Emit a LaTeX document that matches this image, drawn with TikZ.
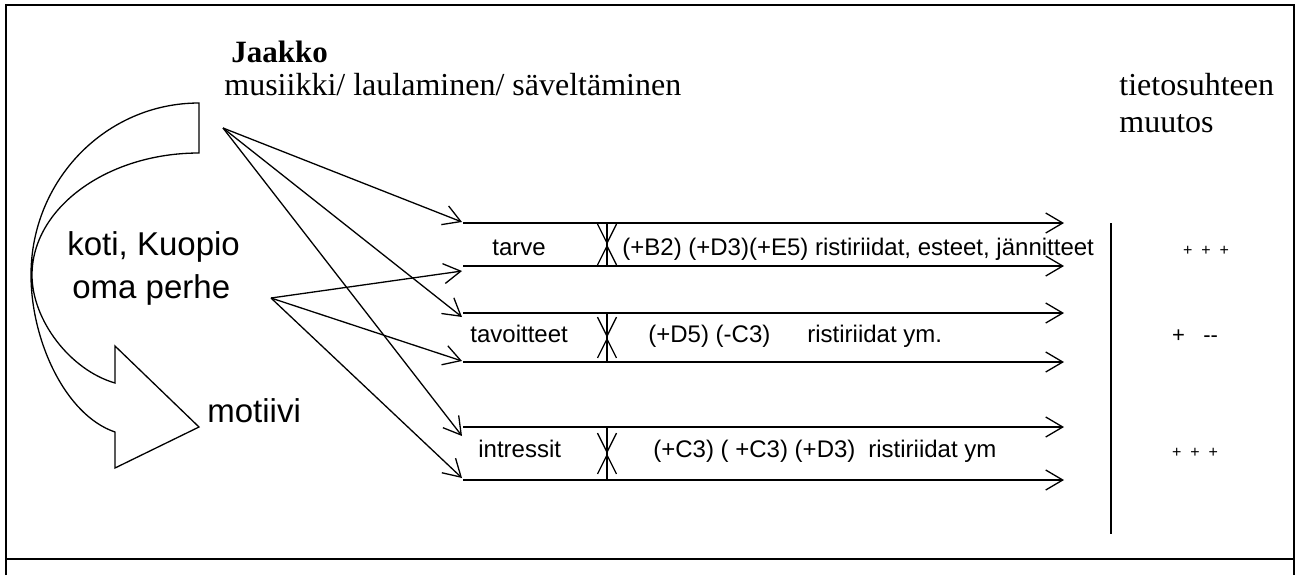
\documentclass[tikz,border=0pt]{standalone}
\usepackage{fontspec}
\setmainfont{Liberation Serif}
\newfontfamily\arialfont{Liberation Sans}
\usetikzlibrary{arrows.meta}

\tikzset{
  lab/.style={anchor=base west,inner sep=0pt},
  bigsans/.style={lab,font=\arialfont\fontsize{16.5}{20}\selectfont},
  rowtext/.style={lab,font=\arialfont\fontsize{12}{14}\selectfont},
  serifhead/.style={lab,font=\fontsize{16}{19}\selectfont},
  plusmark/.style={anchor=base,inner sep=0pt,font=\arialfont\fontsize{8}{10}\selectfont},
  frame/.style={line width=1.3pt},
  thinline/.style={line width=0.65pt},
  arr/.style={thinline,-{Straight Barb[length=8.5pt,width=10pt]}},
  meet/.style={thinline,-{Straight Barb[length=9.5pt,width=9.5pt]}},
}

\begin{document}
\begin{tikzpicture}[x=0.5pt,y=-0.5pt]
\useasboundingbox (0,0) rectangle (1297,575);

\draw[frame] (6,575)--(6,5)--(1294,5)--(1294,575);
\draw[frame] (6,559)--(1294,559);

\node[serifhead,font=\bfseries\fontsize{15.5}{19}\selectfont] (jaakko) at (231,62) {Jaakko};
\node[serifhead] (harrastus) at (224,95) {musiikki/ laulaminen/ säveltäminen};
\node[serifhead] (tieto) at (1119,95) {tietosuhteen};
\node[serifhead] (muutos) at (1119,132) {muutos};

\node[bigsans] (koti) at (67,255) {koti, Kuopio};
\node[bigsans] (perhe) at (72,298) {oma perhe};
\node[bigsans] (motiivi) at (207,422) {motiivi};

\draw[thinline] (199,103) -- (199,153)
  .. controls (107,153) and (32,208) .. (32,275)
  .. controls (32,320) and (70,370) .. (115,383)
  -- (115,346) -- (199,427) -- (115,468) -- (115,432)
  .. controls (65,415) and (31,340) .. (31,275)
  .. controls (31,180) and (106,103) .. (199,103) -- cycle;

\coordinate (srcJ) at (223,128);
\coordinate (srcP) at (271,298);

\foreach \r/\t/\b/\jt/\pt in {1/223/266/222/271,2/313/362/317/361,3/427/480/436/478}{
  \coordinate (a\r) at (463,\t);
  \coordinate (b\r) at (463,\b);
  \coordinate (c\r) at (1064,\t);
  \coordinate (d\r) at (1064,\b);
  \coordinate (jt\r) at (462,\jt);
  \coordinate (pt\r) at (462,\pt);
  \coordinate (e\r) at (607,\t);
  \coordinate (f\r) at (607,\b);
  \coordinate (m\r) at (607,{(\t+\b)/2});
  \draw[arr] (a\r) -- (c\r);
  \draw[arr] (b\r) -- (d\r);
  \draw[arr] (srcJ) -- (jt\r);
  \draw[arr] (srcP) -- (pt\r);
  \draw[thinline] (e\r) -- (f\r);
  \draw[meet] (e\r) -- (m\r);
  \draw[meet] (f\r) -- (m\r);
}

\node[rowtext] (tarve) at (492,255) {tarve};
\node[rowtext] (ristiA) at (622,255) {(+B2) (+D3)(+E5) ristiriidat, esteet, jännitteet};
\node[rowtext] (tavoitteet) at (470,342) {tavoitteet};
\node[rowtext] (koodiB) at (648,342) {(+D5) (-C3)};
\node[rowtext] (ristiB) at (807,342) {ristiriidat ym.};
\node[rowtext] (intressit) at (478,457) {intressit};
\node[rowtext] (koodiC) at (653,457) {(+C3) ( +C3) (+D3)};
\node[rowtext] (ristiC) at (868,457) {ristiriidat ym};

\coordinate (vtop) at (1111,223);
\coordinate (vbot) at (1111,534);
\draw[line width=1.2pt] (vtop) -- (vbot);

\node[plusmark] (muutosA) at (1206,255) {+\ \ +\ \ +};
\node[plusmark,font=\arialfont\fontsize{11}{13}\selectfont] (muutosB) at (1195,342) {+\ \ \ -{}-};
\node[plusmark] (muutosC) at (1195,457) {+\ \ +\ \ +};
\end{tikzpicture}
\end{document}
